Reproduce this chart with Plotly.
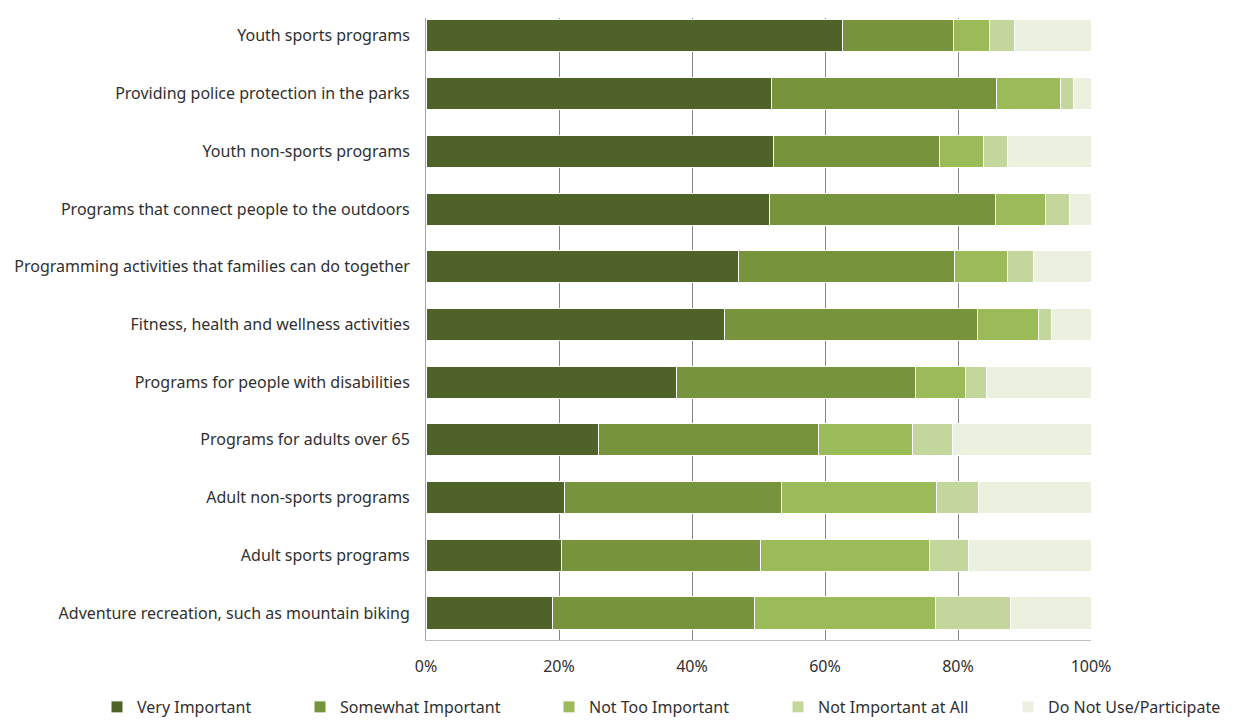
import plotly.graph_objects as go

categories = [
    "Youth sports programs",
    "Providing police protection in the parks",
    "Youth non-sports programs",
    "Programs that connect people to the outdoors",
    "Programming activities that families can do together",
    "Fitness, health and wellness activities",
    "Programs for people with disabilities",
    "Programs for adults over 65",
    "Adult non-sports programs",
    "Adult sports programs",
    "Adventure recreation, such as mountain biking",
]
very_important = [62.6, 52.0, 52.2, 51.6, 47.0, 44.9, 37.6, 25.9, 20.8, 20.4, 19.0]
somewhat_important = [16.7, 33.8, 25.0, 34.0, 32.5, 38.1, 36.0, 33.1, 32.7, 29.9, 30.4]
not_too_important = [5.4, 9.6, 6.7, 7.6, 8.0, 9.1, 7.6, 14.2, 23.3, 25.4, 27.2]
not_important_at_all = [3.8, 1.9, 3.6, 3.5, 3.8, 1.9, 3.1, 5.9, 6.3, 5.9, 11.3]
do_not_use = [11.5, 2.7, 12.5, 3.3, 8.7, 6.0, 15.7, 20.9, 16.9, 18.4, 12.1]

series_names = ["Very Important", "Somewhat Important", "Not Too Important",
                "Not Important at All", "Do Not Use/Participate"]
series_values = [very_important, somewhat_important, not_too_important,
                 not_important_at_all, do_not_use]
colors = ["#4F6228", "#77933C", "#9BBB59", "#C3D69B", "#EBF1DE"]
tick_vals = [0, 20, 40, 60, 80, 100]
tick_text = ["0%", "20%", "40%", "60%", "80%", "100%"]

FONT = "'Noto Sans', sans-serif"
FS = 16
TXT = "#303030"
W, H = 1243, 724
legend_text_px = [139, 342, 591, 820, 1050]

fig = go.Figure()
legend_ids = ["legend", "legend2", "legend3", "legend4", "legend5"]
for name, vals, col, lid in zip(series_names, series_values, colors, legend_ids):
    fig.add_trace(go.Bar(
        y=categories, x=vals, name=name, orientation="h", legend=lid,
        marker=dict(color=col, line=dict(color="#FFFFFF", width=1)),
    ))

legend_layouts = {}
for lid, tx in zip(legend_ids, legend_text_px):
    legend_layouts[lid] = dict(
        orientation="h", xref="container", yref="container",
        x=(tx - 42) / W, xanchor="left", y=(H - 707) / H, yanchor="middle",
        font=dict(size=FS, color=TXT), itemwidth=30,
        bgcolor="rgba(0,0,0,0)",
    )

fig.update_layout(
    barmode="stack",
    bargap=0.445,
    width=W, height=H,
    margin=dict(l=426, r=152, t=18, b=84, autoexpand=False),
    paper_bgcolor="white", plot_bgcolor="white",
    font=dict(family=FONT, size=FS, color=TXT),
    xaxis=dict(range=[0, 100], tickvals=tick_vals, ticktext=tick_text,
               showgrid=True, gridcolor="#868686", gridwidth=1,
               zeroline=False, showline=True, linecolor="#BFBFBF", linewidth=1,
               ticks="", ticklabelstandoff=12,
               tickfont=dict(size=FS, color=TXT)),
    yaxis=dict(categoryorder="array", categoryarray=categories[::-1],
               range=[-0.468, 10.31],
               showline=True, linecolor="#A6A6A6", linewidth=1,
               ticks="", ticklabelstandoff=12,
               tickfont=dict(size=FS, color=TXT)),
    showlegend=True,
    **legend_layouts,
)

fig.write_html("out.html")
